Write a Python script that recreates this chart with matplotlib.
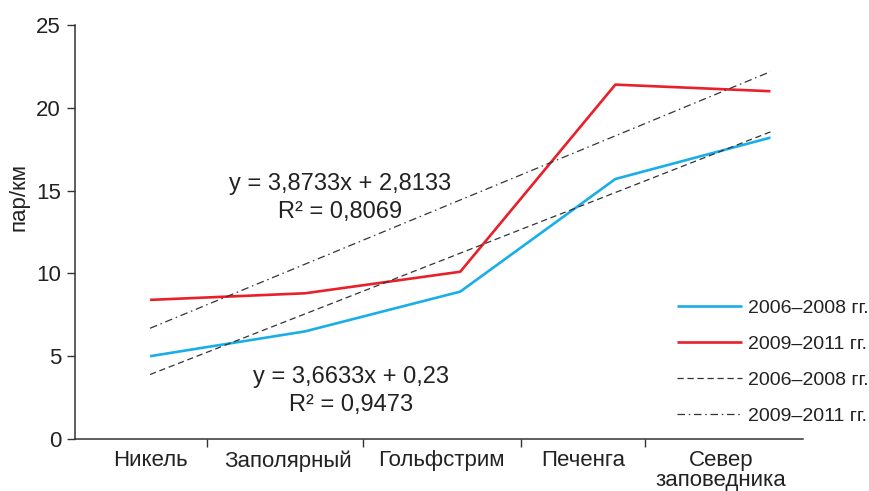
import numpy as np
import matplotlib.pyplot as plt

plt.rcParams['font.family'] = ['Liberation Sans', 'DejaVu Sans']

sites = ["Никель", "Заполярный", "Гольфстрим", "Печенга", "Север\nзаповедника"]
pairs_0608 = [5.0, 6.5, 8.9, 15.7, 18.2]
pairs_0911 = [8.4, 8.8, 10.1, 21.4, 21.0]

# linear trends as printed on the chart: slope, intercept, R^2
trend_0608 = (3.6633, 0.23, 0.9473)
trend_0911 = (3.8733, 2.8133, 0.8069)

period_a = "2006–2008 гг."
period_b = "2009–2011 гг."

x = np.arange(1, len(sites) + 1)

fig = plt.figure(figsize=(8.7, 4.91), dpi=100)
ax = fig.add_axes([0.0862, 0.1059, 0.8368, 0.8432])

ax.plot(x, pairs_0608, color='#1aaee8', lw=1.9, solid_capstyle='butt', label=period_a)
ax.plot(x, pairs_0911, color='#e8202a', lw=1.9, solid_capstyle='butt', label=period_b)

k, b, r2a = trend_0608
ax.plot(x, k * x + b, color='#333333', lw=0.9, dashes=(5, 3), label=period_a)
k2, b2, r2b = trend_0911
ax.plot(x, k2 * x + b2, color='#333333', lw=0.9, dashes=(6, 3, 1.2, 3), label=period_b)

def fmt(v):
    return f"{v:g}".replace('.', ',')

ax.text(2.226, 14.55, f"y = {fmt(k2)}x + {fmt(b2)}\nR² = {fmt(r2b)}",
        ha='center', va='center', fontsize=17, linespacing=1.4, color='#222222')
ax.text(2.297, 2.9, f"y = {fmt(k)}x + {fmt(b)}\nR² = {fmt(r2a)}",
        ha='center', va='center', fontsize=17, linespacing=1.4, color='#222222')

ax.set_xlim(0.516, 5.21)
ax.set_ylim(0, 25)
ax.set_yticks([0, 5, 10, 15, 20, 25])

# category labels sit between the separator ticks
label_pos = [1.0, 1.89, 2.88, 3.79, 4.68]
ax.set_xticks(label_pos)
ax.set_xticklabels(sites, linespacing=0.95)
ax.set_xticks([1.37, 2.37, 3.39, 4.19], minor=True)
ax.tick_params(axis='x', which='major', length=0, pad=8, labelsize=16, labelcolor='#222222')
ax.tick_params(axis='x', which='minor', length=6, width=1.0, color='#333333', direction='out')
ax.tick_params(axis='y', length=6, width=1.0, color='#333333', pad=4, labelsize=16,
               labelcolor='#222222')

for s in ['top', 'right']:
    ax.spines[s].set_visible(False)
for s in ['left', 'bottom']:
    ax.spines[s].set_color('#333333')
    ax.spines[s].set_linewidth(1.1)

ax.set_ylabel("пар/км", fontsize=16, color='#222222')
ax.yaxis.set_label_coords(30 / 870, 1 - 197 / 491, transform=fig.transFigure)

ax.legend(loc='upper left', bbox_to_anchor=(677 / 870, 1 - 299 / 491),
          bbox_transform=fig.transFigure, frameon=False, fontsize=14,
          handlelength=3.35, handletextpad=0.3, labelspacing=0.95,
          borderpad=0, borderaxespad=0, labelcolor='#222222')

fig.savefig("out.png", dpi=100)
